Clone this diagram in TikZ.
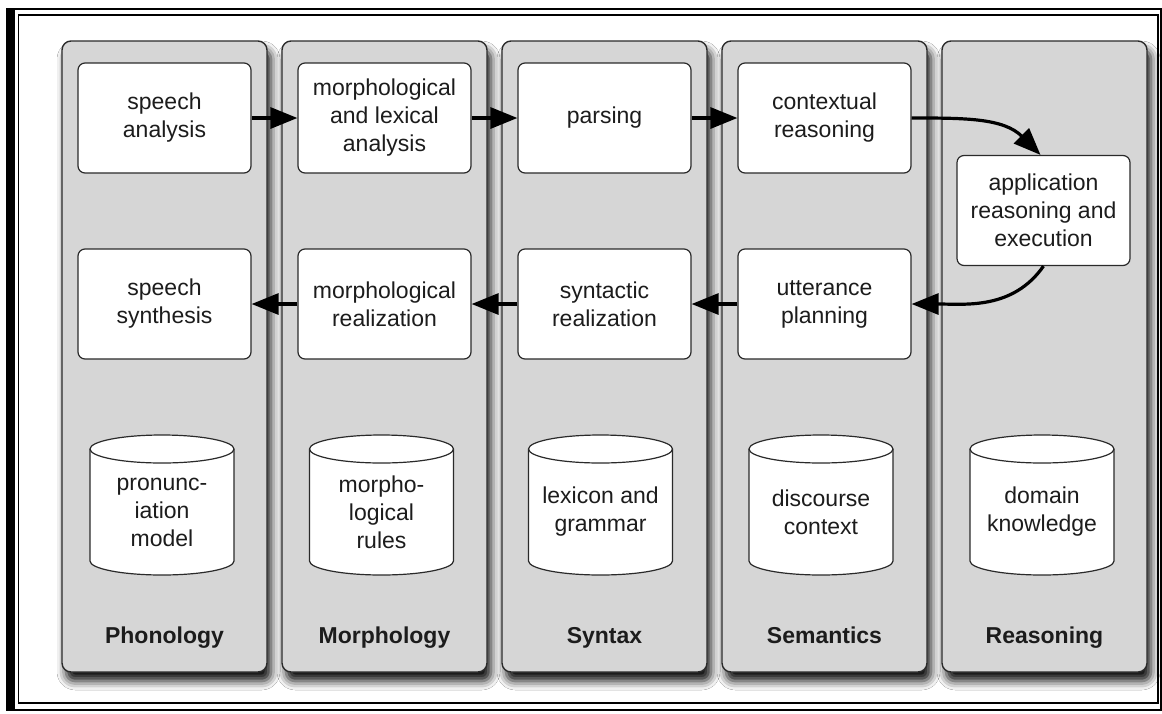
\documentclass[tikz,border=0pt]{standalone}
\usepackage{fontspec}
\setmainfont{Liberation Sans}
\usetikzlibrary{arrows.meta,shadows.blur}

\definecolor{lanefill}{HTML}{D6D6D6}
\definecolor{edge}{HTML}{2A2A2A}
\definecolor{ink}{HTML}{1C1C1C}

% database cylinder: name, centre x, centre y, text
\newcommand\dbcyl[4]{%
  \draw[cylline] (#2-72,#3+56) -- (#2-72,#3-56)
    arc[start angle=180,end angle=360,x radius=72,y radius=14]
    -- (#2+72,#3+56)
    arc[start angle=0,end angle=180,x radius=72,y radius=14] -- cycle;
  \draw[cylline,fill=none] (#2-72,#3+56)
    arc[start angle=180,end angle=360,x radius=72,y radius=14];
  \node[cyltext] (#1) at (#2,#3-7) {#4};
}

\begin{document}
\begin{tikzpicture}[x=1pt,y=1pt,
  txt/.style={font=\fontsize{23}{28}\selectfont, text=ink, align=center},
  lane/.style={draw=edge, line width=1.4pt, fill=lanefill, rounded corners=9pt,
    minimum width=205pt, minimum height=631pt, inner sep=0pt,
    blur shadow={shadow xshift=4pt, shadow yshift=-9pt, shadow blur radius=9pt, shadow opacity=95}},
  proc/.style={txt, draw=edge, line width=1.2pt, fill=white, rounded corners=7pt,
    minimum width=173pt, minimum height=110pt, inner sep=0pt},
  cylline/.style={draw=edge, line width=1.2pt, fill=white},
  cyltext/.style={txt, inner sep=0pt},
  lanelabel/.style={font=\bfseries\fontsize{23}{28}\selectfont, text=ink, anchor=base},
  flow/.style={draw=black, line width=3.2pt, -{Triangle[length=27pt,width=21pt]}},
]
\useasboundingbox (0,0) rectangle (1162,-713);

% double frame with heavy left rule
\fill[white] (8,-9) rectangle (1161,-709.5);
\draw[line width=2pt] (8,-9) rectangle (1161,-709.5);
\fill[black] (6,-8) rectangle (15,-710.5);
\draw[line width=1.3pt] (18.5,-15) rectangle (1158,-703);

% lanes
\node[lane] (Lpho) at (164.5,-356.5) {};
\node[lane] (Lmor) at (384.5,-356.5) {};
\node[lane] (Lsyn) at (604.5,-356.5) {};
\node[lane] (Lsem) at (824.5,-356.5) {};
\node[lane] (Lrea) at (1044.5,-356.5) {};

% lane titles
\node[lanelabel] (tpho) at (164.5,-643) {Phonology};
\node[lanelabel] (tmor) at (384.5,-643) {Morphology};
\node[lanelabel] (tsyn) at (604.5,-643) {Syntax};
\node[lanelabel] (tsem) at (824.5,-643) {Semantics};
\node[lanelabel] (trea) at (1044.5,-643) {Reasoning};

% understanding row
\node[proc] (sa)  at (164.5,-118) {speech\\analysis};
\node[proc] (mla) at (384.5,-118) {morphological\\and lexical\\analysis};
\node[proc] (par) at (604.5,-118) {parsing};
\node[proc] (ctx) at (824.5,-118) {contextual\\reasoning};

% application
\node[proc] (app) at (1043.5,-210.5) {application\\reasoning and\\execution};

% generation row
\node[proc] (ss)  at (164.5,-304) {speech\\synthesis};
\node[proc] (mr)  at (384.5,-304) {morphological\\realization};
\node[proc] (sr)  at (604.5,-304) {syntactic\\realization};
\node[proc] (up)  at (824.5,-304) {utterance\\planning};

% knowledge stores
\dbcyl{dpho}{162}{-505}{pronunc-\\iation\\model}
\dbcyl{dmor}{381.5}{-505}{morpho-\\logical\\rules}
\dbcyl{dsyn}{600.5}{-505}{lexicon and\\grammar}
\dbcyl{dsem}{821}{-505}{discourse\\context}
\dbcyl{drea}{1042}{-505}{domain\\knowledge}

% flow
\draw[flow] (sa.east) -- (mla.west);
\draw[flow] (mla.east) -- (par.west);
\draw[flow] (par.east) -- (ctx.west);
\draw[flow] (ctx.east) to[out=0,in=135] ([xshift=-3pt]app.north);
\draw[flow] (app.south) to[out=-125,in=0] (up.east);
\draw[flow] (up.west) -- (sr.east);
\draw[flow] (sr.west) -- (mr.east);
\draw[flow] (mr.west) -- (ss.east);
\end{tikzpicture}
\end{document}
